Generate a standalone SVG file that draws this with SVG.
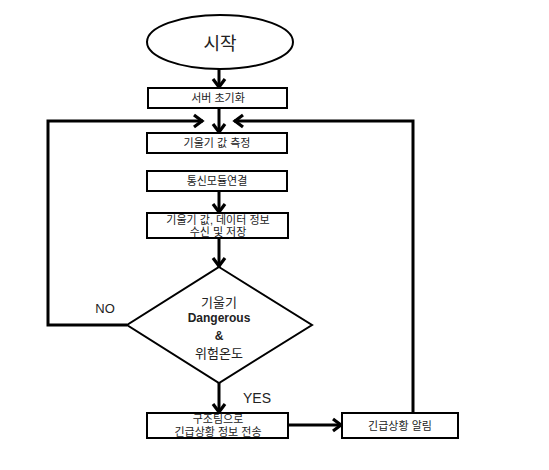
<svg xmlns="http://www.w3.org/2000/svg" width="549" height="470" viewBox="0 0 549 470">
<style>
.box{fill:#fff;stroke:#000;stroke-width:2}
.conn{fill:none;stroke:#000;stroke-width:3}
.t{font-family:"Liberation Sans","Noto Sans CJK KR",sans-serif;fill:#222;text-anchor:middle;dominant-baseline:central}
.s{font-size:11px}
</style>
<defs>
<marker id="ah" markerUnits="userSpaceOnUse" viewBox="-11 -8 13 16" refX="0" refY="0" markerWidth="13" markerHeight="16" orient="auto">
<path d="M-9,-6 L-1,0 L-9,6" fill="none" stroke="#000" stroke-width="3.2"/>
</marker>
</defs>
<rect width="549" height="470" fill="#fff"/>
<g id="connectors">
<line class="conn" x1="219" y1="69" x2="219" y2="88" marker-end="url(#ah)"/>
<line class="conn" x1="219" y1="108" x2="219" y2="133" marker-end="url(#ah)"/>
<polyline class="conn" points="127,325 48,325 48,121 203,121" marker-end="url(#ah)"/>
<polyline class="conn" points="413,413 413,121 234,121" marker-end="url(#ah)"/>
<line class="conn" x1="219" y1="191" x2="219" y2="213" marker-end="url(#ah)"/>
<line class="conn" x1="219" y1="238" x2="219" y2="267" marker-end="url(#ah)"/>
<line class="conn" x1="219" y1="383" x2="219" y2="413" marker-end="url(#ah)"/>
<line class="conn" x1="289" y1="425" x2="342" y2="425" marker-end="url(#ah)"/>
</g>
<g id="start">
<ellipse cx="220" cy="42" rx="73" ry="27" fill="#fff" stroke="#000" stroke-width="2"/>
<text class="t" x="220" y="44" font-size="18">시작</text>
</g>
<g id="init">
<rect class="box" x="148" y="88" width="139" height="20"/>
<text class="t s" x="218" y="98">서버 초기화</text>
</g>
<g id="measure">
<rect class="box" x="147" y="133" width="140" height="20"/>
<text class="t s" x="217" y="143">기울기 값 측정</text>
</g>
<g id="comm">
<rect class="box" x="147" y="171" width="140" height="20"/>
<text class="t s" x="217" y="181">통신모듈연결</text>
</g>
<g id="receive">
<rect class="box" x="147" y="213" width="141" height="25"/>
<text class="t s" x="218" y="220">기울기 값, 데이터 정보</text>
<text class="t s" x="218" y="232">수신 및 저장</text>
</g>
<g id="decision">
<polygon points="219,267 312,325 219,383 127,325" fill="#fff" stroke="#000" stroke-width="2"/>
<text class="t" x="219" y="302" font-size="13" fill="#444">기울기</text>
<text class="t" x="219" y="318" font-size="12" font-weight="bold">Dangerous</text>
<text class="t" x="219" y="336" font-size="12" font-weight="bold">&amp;</text>
<text class="t" x="219" y="353" font-size="13" fill="#444">위험온도</text>
</g>
<g id="labels">
<text class="t" x="105" y="308" font-size="13">NO</text>
<text class="t" x="257" y="398" font-size="14">YES</text>
</g>
<g id="send">
<rect class="box" x="147" y="413" width="141" height="25"/>
<text class="t s" x="218" y="419">구조팀으로</text>
<text class="t s" x="218" y="432">긴급상황 정보 전송</text>
</g>
<g id="alarm">
<rect class="box" x="342" y="413" width="116" height="25"/>
<text class="t s" x="400" y="426">긴급상황 알림</text>
</g>
</svg>
